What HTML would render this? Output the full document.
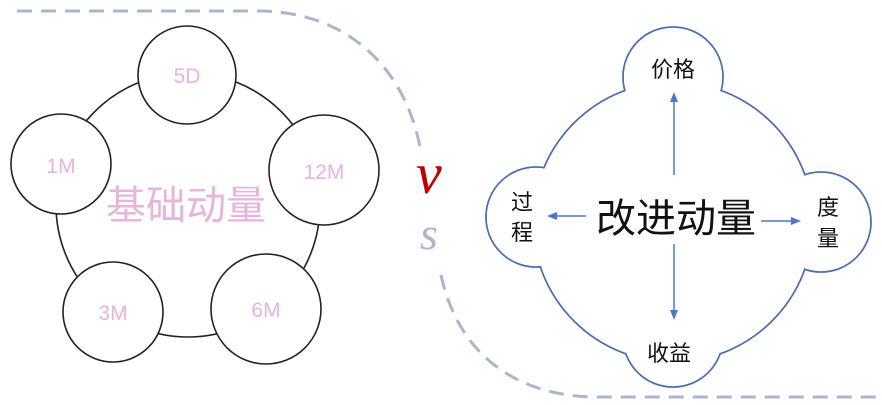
<!DOCTYPE html>
<html><head><meta charset="utf-8"><style>
html,body{margin:0;padding:0;background:#fff;}
svg{display:block}
</style></head><body>
<svg width="882" height="405" viewBox="0 0 882 405" xmlns="http://www.w3.org/2000/svg">
<g fill="none" stroke="#a9b6cc" stroke-width="3" stroke-dasharray="15,9">
<path d="M17,11 H262 C350,13 405,70 420,147"/>
<path d="M441,275 C455,340 500,393 590,397 H882"/>
</g>
<text x="416" y="193" font-family="Liberation Serif, serif" font-style="italic" font-size="58" fill="#c00000">v</text>
<text x="420" y="249" font-family="Liberation Serif, serif" font-style="italic" font-size="46" fill="#a9b6cc">s</text>

<!-- left -->
<g stroke="#222" stroke-width="1.6" fill="#fff">
<circle cx="188" cy="205" r="132"/>
<circle cx="187" cy="75" r="49"/>
<circle cx="61" cy="164" r="50"/>
<circle cx="324" cy="170" r="55"/>
<circle cx="113" cy="312" r="50"/>
<circle cx="266" cy="309" r="55"/>
</g>
<g font-family="Liberation Sans, sans-serif" font-size="21" fill="#e6b4dc" text-anchor="middle">
<text x="187" y="83">5D</text>
<text x="61" y="173">1M</text>
<text x="324" y="179">12M</text>
<text x="113" y="320">3M</text>
<text x="266" y="317">6M</text>
</g>
<text x="186" y="219" font-family="Liberation Sans, Noto Sans CJK SC, sans-serif" font-size="40" fill="#e6b4dc" text-anchor="middle">基础动量</text>

<!-- right cloud -->
<g stroke="#4a6db0" stroke-width="1.8" fill="#fff">
<circle cx="673" cy="222" r="140"/>
<circle cx="673" cy="77" r="50"/>
<circle cx="536" cy="217" r="50"/>
<circle cx="821" cy="222" r="50"/>
<circle cx="673" cy="337" r="50"/>
</g>
<g fill="#fff">
<circle cx="673" cy="222" r="139.1"/>
<circle cx="673" cy="77" r="49.1"/>
<circle cx="536" cy="217" r="49.1"/>
<circle cx="821" cy="222" r="49.1"/>
<circle cx="673" cy="337" r="49.1"/>
</g>
<g stroke="#4a78c8" stroke-width="1.5" fill="#4a78c8">
<line x1="674" y1="175" x2="674" y2="98"/>
<polygon points="674,92 670,102 678,102" stroke="none"/>
<line x1="674" y1="244" x2="674" y2="314"/>
<polygon points="674,320 670,310 678,310" stroke="none"/>
<line x1="586" y1="216" x2="553" y2="216"/>
<polygon points="547,216 557,212 557,220" stroke="none"/>
<line x1="761" y1="221" x2="795" y2="221"/>
<polygon points="801,221 791,217 791,225" stroke="none"/>
</g>
<g font-family="Liberation Sans, Noto Sans CJK SC, sans-serif" fill="#111" text-anchor="middle">
<text x="676" y="232" font-size="40">改进动量</text>
<text x="673" y="77" font-size="22">价格</text>
<text x="669" y="361" font-size="22">收益</text>
<text x="522" y="210" font-size="22">过</text>
<text x="522" y="240" font-size="22">程</text>
<text x="828" y="215" font-size="22">度</text>
<text x="828" y="246" font-size="22">量</text>
</g>
</svg>
</body></html>
